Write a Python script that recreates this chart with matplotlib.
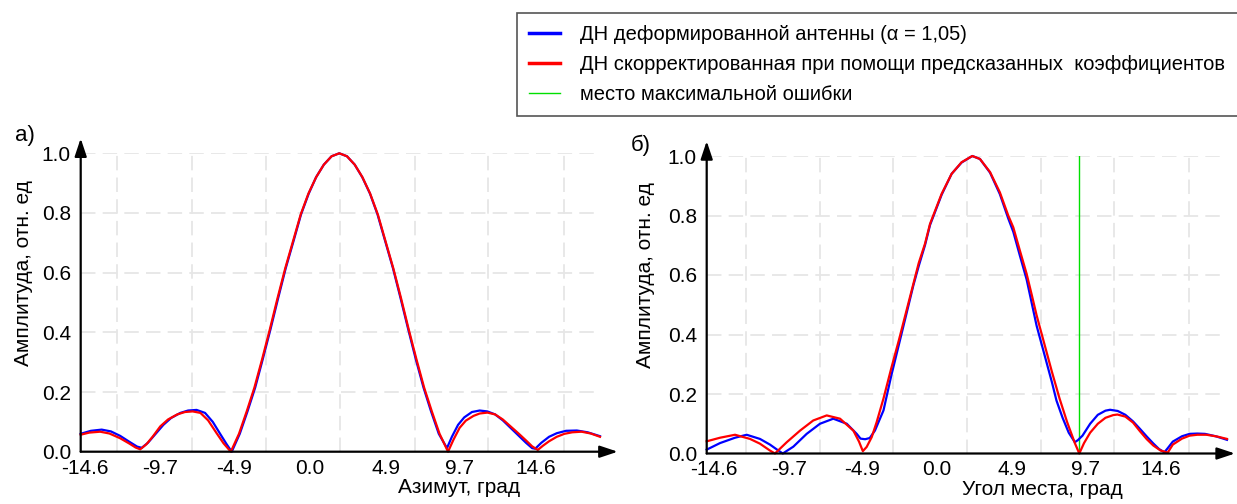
import matplotlib
matplotlib.use("Agg")
import matplotlib.pyplot as plt
from matplotlib.lines import Line2D

plt.rcParams["font.family"] = ["Liberation Sans", "DejaVu Sans"]
plt.rcParams["font.size"] = 15

# --- а) азимут ---
az_blue_x = [-14.86, -14.2, -13.5, -12.9, -12.3, -11.7, -11.2, -10.9, -10.5, -10.0,
             -9.5, -9.0, -8.4, -7.9, -7.35, -6.8, -6.3, -5.8, -5.4, -5.07,
             -4.55, -4.05, -3.55, -3.06, -2.56, -2.06, -1.57, -1.07, -0.58, -0.08,
             0.4, 0.9, 1.4, 1.9, 2.4, 2.9, 3.39, 3.89, 4.38, 4.88,
             5.38, 5.87, 6.37, 6.86, 7.36, 7.85, 8.35, 8.88,
             9.2, 9.6, 10.0, 10.5, 11.0, 11.5, 12.0, 12.5, 13.0, 13.5,
             14.0, 14.4, 14.6, 15.0, 15.5, 16.0, 16.6, 17.3, 18.0, 18.8]
az_blue_y = [0.06, 0.07, 0.074, 0.068, 0.053, 0.033, 0.017, 0.013, 0.03, 0.06,
             0.09, 0.113, 0.13, 0.138, 0.14, 0.13, 0.1, 0.058, 0.025, 0.0,
             0.06, 0.135, 0.215, 0.31, 0.41, 0.515, 0.615, 0.705, 0.795, 0.865,
             0.92, 0.962, 0.99, 1.0, 0.99, 0.962, 0.92, 0.865, 0.795, 0.705,
             0.615, 0.515, 0.41, 0.31, 0.215, 0.135, 0.06, 0.012,
             0.05, 0.09, 0.115, 0.133, 0.138, 0.135, 0.125, 0.105, 0.08, 0.055,
             0.03, 0.012, 0.01, 0.03, 0.05, 0.062, 0.07, 0.071, 0.065, 0.052]

az_red_x = [-14.86, -14.3, -13.6, -13.0, -12.3, -11.7, -11.3, -11.0, -10.6, -10.2,
            -9.7, -9.2, -8.6, -8.1, -7.6, -7.1, -6.6, -6.05, -5.6, -5.13,
            -4.6, -4.1, -3.6, -3.1, -2.6, -2.1, -1.6, -1.1, -0.6, -0.1,
            0.4, 0.9, 1.4, 1.9, 2.4, 2.9, 3.4, 3.9, 4.4, 4.9,
            5.4, 5.9, 6.4, 6.9, 7.4, 7.9, 8.4, 8.95,
            9.3, 9.7, 10.1, 10.6, 11.0, 11.5, 12.0, 12.5, 13.0, 13.5,
            14.0, 14.4, 14.77, 15.1, 15.5, 16.0, 16.5, 17.0, 17.6, 18.2, 18.8]
az_red_y = [0.057, 0.064, 0.067, 0.061, 0.045, 0.027, 0.014, 0.008, 0.025, 0.05,
            0.085, 0.108, 0.125, 0.133, 0.135, 0.13, 0.105, 0.062, 0.028, 0.0,
            0.06, 0.135, 0.215, 0.31, 0.41, 0.515, 0.615, 0.705, 0.795, 0.865,
            0.92, 0.962, 0.99, 1.0, 0.99, 0.962, 0.92, 0.865, 0.795, 0.705,
            0.615, 0.515, 0.41, 0.31, 0.215, 0.135, 0.06, 0.0,
            0.04, 0.08, 0.104, 0.12, 0.128, 0.131, 0.125, 0.108, 0.085, 0.062,
            0.038, 0.018, 0.006, 0.02, 0.035, 0.05, 0.06, 0.065, 0.067, 0.061, 0.05]

# --- б) угол места ---
el_blue_x = [-15.05, -14.18, -13.2, -12.44, -11.57, -10.92, -10.37, -10.08, -9.39, -8.52,
             -7.65, -6.78, -5.9, -5.25, -5.0, -4.7, -4.4,
             -4.06, -3.5, -3.0, -2.5, -2.0, -1.55, -1.2, -0.79, -0.46, 0.3,
             0.95, 1.6, 2.3, 2.8, 3.46, 4.1, 4.65, 4.98, 5.41, 5.85,
             6.5, 7.0, 7.5, 7.8, 8.2, 8.6, 9.0,
             9.2, 9.5, 10.0, 10.5, 11.0, 11.3, 11.8, 12.3, 12.8, 13.25,
             13.7, 14.12, 14.5, 14.85, 15.1, 15.4, 16.0, 16.5, 17.0, 17.5, 18.2, 18.94]
el_blue_y = [0.013, 0.035, 0.053, 0.063, 0.049, 0.03, 0.01, 0.0, 0.023, 0.066,
             0.1, 0.117, 0.1, 0.066, 0.05, 0.048, 0.052,
             0.077, 0.145, 0.26, 0.365, 0.47, 0.565, 0.63, 0.7, 0.768, 0.87,
             0.94, 0.978, 1.0, 0.99, 0.944, 0.872, 0.79, 0.745, 0.665, 0.585,
             0.43, 0.335, 0.24, 0.178, 0.12, 0.07, 0.038,
             0.045, 0.06, 0.1, 0.13, 0.144, 0.147, 0.143, 0.13, 0.108, 0.083,
             0.057, 0.034, 0.015, 0.004, 0.02, 0.04, 0.058, 0.066, 0.067, 0.066, 0.058, 0.046]

el_red_x = [-15.05, -14.18, -13.2, -12.22, -11.57, -10.92, -10.59, -9.82, -8.95, -8.09,
            -7.21, -6.34, -5.47, -5.1, -4.85,
            -4.6, -4.27, -3.95, -3.5, -3.0, -2.5, -2.0, -1.55, -1.2, -0.79, -0.46,
            0.3, 0.95, 1.6, 2.3, 2.8, 3.46, 4.1, 4.65, 4.98, 5.41,
            5.85, 6.2, 6.5, 7.0, 7.5, 8.0, 8.5, 9.0, 9.29,
            9.6, 10.0, 10.5, 11.0, 11.5, 11.78, 12.3, 12.8, 13.25, 13.7,
            14.12, 14.6, 15.07, 15.4, 16.0, 16.5, 17.0, 17.6, 18.3, 18.94]
el_red_y = [0.041, 0.053, 0.063, 0.049, 0.033, 0.01, 0.0, 0.038, 0.077, 0.111,
            0.128, 0.117, 0.077, 0.04, 0.008,
            0.022, 0.055, 0.105, 0.185, 0.285, 0.38, 0.48, 0.57, 0.64, 0.705, 0.772,
            0.873, 0.94, 0.979, 1.0, 0.99, 0.946, 0.878, 0.8, 0.76, 0.682,
            0.604, 0.53, 0.465, 0.37, 0.275, 0.185, 0.105, 0.035, 0.0,
            0.035, 0.07, 0.1, 0.12, 0.129, 0.131, 0.124, 0.104, 0.075, 0.048,
            0.027, 0.01, 0.003, 0.03, 0.05, 0.06, 0.063, 0.063, 0.057, 0.049]

err_x = 9.29  # место максимальной ошибки

tick_vals = [-14.6, -9.7, -4.9, 0.0, 4.9, 9.7, 14.6]
tick_labels = ["%.1f" % v for v in tick_vals]
grid_x = [-12.5, -7.62, -2.87, 1.97, 6.79, 11.56, 16.44]
y_ticks = [0.0, 0.2, 0.4, 0.6, 0.8, 1.0]

legend_labels = ["ДН деформированной антенны (α = 1,05)",
                 "ДН скорректированная при помощи предсказанных  коэффициентов",
                 "место максимальной ошибки"]

BLUE = "#0000ff"
RED = "#ff0000"
GREEN = "#00e000"
W, H = 1237, 504

fig = plt.figure(figsize=(W / 100, H / 100), dpi=100)
ax1 = fig.add_axes([80.7 / W, (H - 451.7) / H, 519.3 / W, 298.4 / H])
ax2 = fig.add_axes([706.7 / W, (H - 453.5) / H, 520.3 / W, 297.5 / H])


def setup(ax, xmin, xmax, xtip, xlabel, xlab_x, ylab_x):
    ax.set_xlim(xmin, xmax)
    ax.set_ylim(0, 1.0)
    for s in ax.spines.values():
        s.set_visible(False)
    ax.set_xticks(tick_vals, tick_labels)
    ax.set_xticks(grid_x, minor=True)
    ax.set_yticks(y_ticks, ["%.1f" % v for v in y_ticks])
    ax.tick_params(which="both", length=0)
    ax.tick_params(axis="x", pad=5)
    ax.tick_params(axis="y", pad=7)
    ax.grid(axis="x", which="minor", color="#e6e6e6", lw=1.3, ls=(0, (8, 4)))
    ax.grid(axis="y", which="major", color="#e6e6e6", lw=1.3, ls=(0, (8, 4)))
    ax.set_axisbelow(True)
    ax.set_xlabel(xlabel)
    ax.xaxis.set_label_coords(xlab_x, -0.088)
    ax.set_ylabel("Амплитуда, отн. ед")
    ax.yaxis.set_label_coords(ylab_x, 0.60)
    arr = dict(arrowstyle="-|>,head_length=0.9,head_width=0.3", color="k", lw=1.6,
               mutation_scale=12, shrinkA=0, shrinkB=0)
    ax.annotate("", xy=(xtip, 0), xytext=(xmin, 0), arrowprops=arr, annotation_clip=False)
    ax.annotate("", xy=(xmin, 1.05), xytext=(xmin, 0), arrowprops=arr, annotation_clip=False)


setup(ax1, -14.86, 18.8, 19.95, "Азимут, град", 0.728, -0.092)
setup(ax2, -15.05, 18.94, 19.46, "Угол места, град", 0.645, -0.099)

ax1.plot(az_blue_x, az_blue_y, color=BLUE, lw=1.6, clip_on=False)
ax1.plot(az_red_x, az_red_y, color=RED, lw=1.6, clip_on=False)
ax2.axvline(err_x, 0, 1, color=GREEN, lw=1.0)
ax2.plot(el_blue_x, el_blue_y, color=BLUE, lw=1.6, clip_on=False)
ax2.plot(el_red_x, el_red_y, color=RED, lw=1.6, clip_on=False)

fig.text(25 / W, 1 - 136 / H, "а)", fontsize=16, ha="center", va="center")
fig.text(641 / W, 1 - 145 / H, "б)", fontsize=16, ha="center", va="center")

handles = [Line2D([], [], color=BLUE, lw=2.5),
           Line2D([], [], color=RED, lw=2.5),
           Line2D([], [], color=GREEN, lw=1.0)]
leg = fig.legend(handles, legend_labels, loc="upper left",
                 bbox_to_anchor=(517 / W, 1 - 13 / H), borderaxespad=0,
                 frameon=True, fancybox=False, framealpha=1, edgecolor="#555555",
                 borderpad=0.6, labelspacing=0.55, handlelength=1.55,
                 handletextpad=1.0, fontsize=14.5)
leg.get_frame().set_linewidth(1.2)

fig.savefig("out.png", dpi=100)
